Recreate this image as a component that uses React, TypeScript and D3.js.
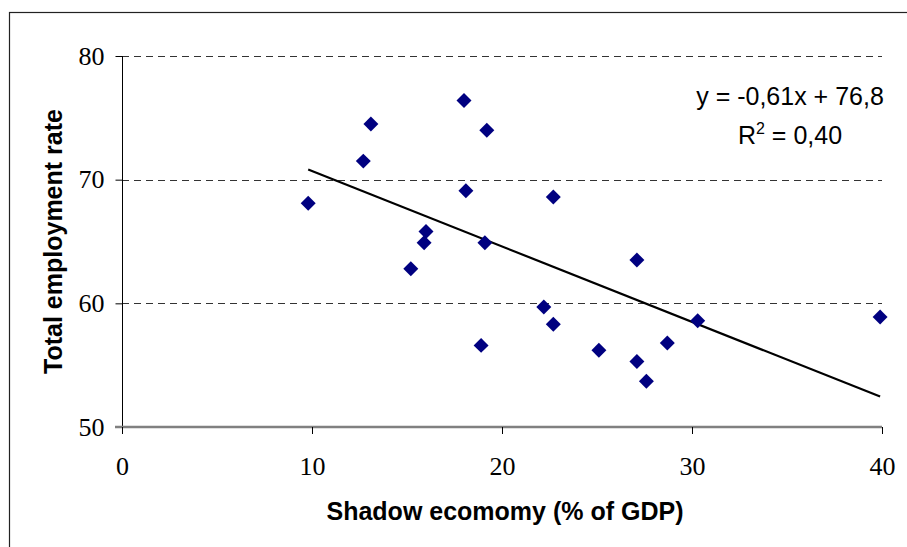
import React, { useEffect, useRef } from "react";
import * as d3 from "d3";

// shadow economy (% of GDP) vs total employment rate, one pair per country
const shadowEconomy = [9.8, 12.7, 13.1, 15.2, 15.9, 16.0, 18.0, 18.1, 18.9, 19.1, 19.2, 22.2, 22.7, 22.7, 25.1, 27.1, 27.1, 27.6, 28.7, 30.3, 39.9];
const employmentRate = [68.1, 71.5, 74.5, 62.8, 64.9, 65.8, 76.4, 69.1, 56.6, 64.9, 74.0, 59.7, 68.6, 58.3, 56.2, 63.5, 55.3, 53.7, 56.8, 58.6, 58.9];

const xTicks = [0, 10, 20, 30, 40];
const yTicks = [50, 60, 70, 80];

// linear trend from the chart label
const slope = -0.61;
const intercept = 76.8;
const equationText = "y = -0,61x + 76,8";
const r2Text = "= 0,40";

const App = () => {
  const svgRef = useRef<SVGSVGElement>(null);

  useEffect(() => {
    const svg = d3.select(svgRef.current);
    svg.selectAll("*").remove();

    const width = 907;
    const height = 547;
    const plot = { left: 122, right: 882, top: 56, bottom: 427 };

    svg.attr("width", width).attr("height", height);

    const x = d3.scaleLinear().domain([0, 40]).range([plot.left, plot.right]);
    const y = d3.scaleLinear().domain([50, 80]).range([plot.bottom, plot.top]);

    // outer chart frame (only left and top are visible)
    svg
      .append("rect")
      .attr("x", 9.5)
      .attr("y", 12.5)
      .attr("width", 920)
      .attr("height", 560)
      .attr("fill", "white")
      .attr("stroke", "#222")
      .attr("stroke-width", 1.2);

    // dashed gridlines
    svg
      .append("g")
      .selectAll("line")
      .data(yTicks.filter((d) => d > 50))
      .join("line")
      .attr("x1", plot.left)
      .attr("x2", plot.right)
      .attr("y1", (d) => Math.round(y(d)) + 0.5)
      .attr("y2", (d) => Math.round(y(d)) + 0.5)
      .attr("stroke", "#333")
      .attr("stroke-width", 1)
      .attr("stroke-dasharray", "7,5");

    // y axis
    const yAxis = d3
      .axisLeft(y)
      .tickValues(yTicks)
      .tickSize(7)
      .tickPadding(11)
      .tickFormat(d3.format("d"));
    const gy = svg
      .append("g")
      .attr("transform", `translate(${plot.left + 0.5},0)`)
      .call(yAxis);
    gy.select(".domain").attr("stroke", "#000").attr("d", `M0,${plot.top}V${plot.bottom}`);
    gy.selectAll(".tick line").attr("stroke", "#000");
    gy.selectAll(".tick text")
      .attr("font-family", "'Liberation Serif', 'Times New Roman', serif")
      .attr("font-size", 26)
      .attr("fill", "#000");

    // x axis
    const xAxis = d3
      .axisBottom(x)
      .tickValues(xTicks)
      .tickSize(7)
      .tickPadding(23)
      .tickFormat(d3.format("d"));
    const gx = svg
      .append("g")
      .attr("transform", `translate(0,${plot.bottom})`)
      .call(xAxis);
    gx.select(".domain")
      .attr("stroke", "#808080")
      .attr("stroke-width", 2.5)
      .attr("d", `M${plot.left - 7},0H${plot.right}`);
    gx.selectAll(".tick line").attr("stroke", "#000");
    gx.selectAll(".tick text")
      .attr("font-family", "'Liberation Serif', 'Times New Roman', serif")
      .attr("font-size", 26)
      .attr("fill", "#000");

    // trend line across the data range
    const [xMin, xMax] = d3.extent(shadowEconomy) as [number, number];
    svg
      .append("path")
      .datum([xMin, xMax])
      .attr(
        "d",
        d3
          .line<number>()
          .x((d) => x(d))
          .y((d) => y(slope * d + intercept))
      )
      .attr("fill", "none")
      .attr("stroke", "#000")
      .attr("stroke-width", 2.2);

    // diamond markers
    const diamond = d3.symbol().type(d3.symbolSquare).size(112);
    svg
      .append("g")
      .selectAll("path")
      .data(d3.zip(shadowEconomy, employmentRate))
      .join("path")
      .attr("d", diamond)
      .attr("transform", (d) => `translate(${x(d[0])},${y(d[1])}) rotate(45)`)
      .attr("fill", "#000080");

    // regression label
    const label = svg
      .append("g")
      .attr("font-family", "'Liberation Sans', Arial, sans-serif")
      .attr("font-size", 25)
      .attr("fill", "#000")
      .attr("text-anchor", "middle");
    label.append("text").attr("x", 790).attr("y", 105).text(equationText);
    const r2 = label.append("text").attr("x", 790).attr("y", 144);
    r2.append("tspan").text("R");
    r2.append("tspan").attr("font-size", 16).attr("dy", -10).text("2");
    r2.append("tspan").attr("dy", 10).text(" " + r2Text);

    // axis titles
    svg
      .append("text")
      .attr("x", 505)
      .attr("y", 520)
      .attr("text-anchor", "middle")
      .attr("font-family", "'Liberation Sans', Arial, sans-serif")
      .attr("font-weight", "bold")
      .attr("font-size", 25)
      .text("Shadow ecomomy (% of GDP)");

    svg
      .append("text")
      .attr("transform", `translate(62,${(plot.top + plot.bottom) / 2}) rotate(-90)`)
      .attr("text-anchor", "middle")
      .attr("font-family", "'Liberation Sans', Arial, sans-serif")
      .attr("font-weight", "bold")
      .attr("font-size", 25)
      .text("Total employment rate");
  }, []);

  return (
    <div style={{ position: "absolute", left: 0, top: 0 }}>
      <svg ref={svgRef} style={{ display: "block" }} />
    </div>
  );
};

export default App;
